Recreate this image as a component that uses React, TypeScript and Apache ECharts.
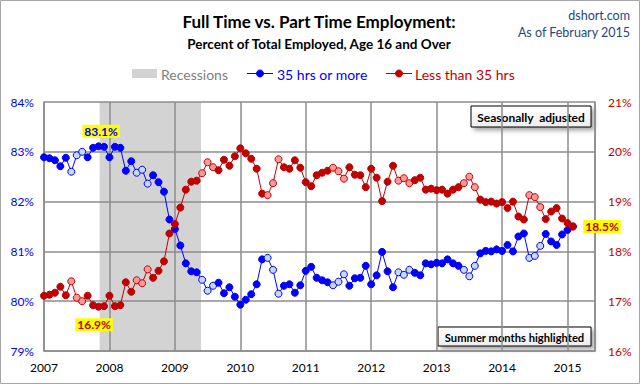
import React, { useEffect, useRef } from "react";
import * as echarts from "echarts";

const startYear = 2007;
const yearTicks = [2007, 2008, 2009, 2010, 2011, 2012, 2013, 2014, 2015];
const summerMonths = [5, 6, 7]; // Jun, Jul, Aug highlighted
const recession = [2007.85, 2009.4];

// 35 hrs or more, % of total employed (Jan 2007 .. Feb 2015)
const fullTime = [
  82.89, 82.87, 82.83, 82.71, 82.88, 82.6, 82.93, 83.0, 82.89, 83.08, 83.11, 83.1,
  82.89, 83.1, 83.08, 82.62, 82.81, 82.58, 82.64, 82.36, 82.53, 82.39, 82.2, 81.64,
  81.45, 81.12, 80.76, 80.6, 80.58, 80.43, 80.21, 80.31, 80.37, 80.16, 80.28, 80.09,
  79.93, 80.03, 80.14, 80.34, 80.84, 80.87, 80.63, 80.15, 80.31, 80.34, 80.17, 80.32,
  80.61, 80.69, 80.47, 80.42, 80.38, 80.32, 80.39, 80.54, 80.31, 80.46, 80.47, 80.71,
  80.34, 80.52, 80.99, 80.6, 80.28, 80.58, 80.53, 80.63, 80.57, 80.52, 80.76, 80.74,
  80.77, 80.76, 80.84, 80.76, 80.71, 80.63, 80.5, 80.71, 80.96, 81.01, 81.0, 81.04,
  81.01, 81.13, 81.0, 81.3, 81.36, 80.87, 80.91, 81.11, 81.35, 81.2, 81.13, 81.34,
  81.43, 81.5,
];

// Less than 35 hrs, % of total employed (Jan 2007 .. Feb 2015)
const partTime = [
  17.11, 17.13, 17.17, 17.29, 17.12, 17.4, 17.07, 17.0, 17.11, 16.92, 16.89, 16.9,
  17.11, 16.9, 16.92, 17.38, 17.19, 17.42, 17.36, 17.64, 17.47, 17.61, 17.8, 18.36,
  18.55, 18.88, 19.24, 19.4, 19.42, 19.57, 19.79, 19.69, 19.63, 19.84, 19.72, 19.91,
  20.07, 19.97, 19.86, 19.66, 19.16, 19.13, 19.37, 19.85, 19.69, 19.66, 19.83, 19.68,
  19.39, 19.31, 19.53, 19.58, 19.62, 19.68, 19.61, 19.46, 19.69, 19.54, 19.53, 19.29,
  19.66, 19.48, 19.01, 19.4, 19.72, 19.42, 19.47, 19.37, 19.43, 19.48, 19.24, 19.26,
  19.23, 19.24, 19.16, 19.24, 19.29, 19.37, 19.5, 19.29, 19.04, 18.99, 19.0, 18.96,
  18.99, 18.87, 19.0, 18.7, 18.64, 19.13, 19.09, 18.89, 18.65, 18.8, 18.87, 18.66,
  18.57, 18.5,
];

const BLUE = "#0000FF";
const BLUE_LIGHT = "#C5D9F1";
const RED = "#C00000";
const RED_LIGHT = "#FF9999";
const GRID = "#8C8C8C";
const FONT = 'Lato, "Noto Sans", sans-serif';

function toPoints(values: number[], color: string, light: string) {
  return values.map((v, i) => {
    const summer = summerMonths.includes(i % 12);
    return {
      value: [startYear + i / 12, v],
      itemStyle: { color: summer ? light : color, borderColor: color, borderWidth: 1 },
    };
  });
}

function labelStyle(color: string, offset: number[]) {
  return {
    show: true,
    position: "inside",
    offset,
    color,
    fontFamily: FONT,
    fontWeight: "bold",
    fontSize: 12,
    backgroundColor: "#FFFF00",
    padding: [1, 2, 0, 2],
    formatter: (p: any) => Number(p.value).toFixed(1) + "%",
  };
}

function noteBox(x: number, y: number, w: number, h: number, text: string, size: number) {
  return {
    type: "group",
    children: [
      {
        type: "rect",
        shape: { x, y, width: w, height: h },
        style: {
          fill: new echarts.graphic.LinearGradient(0, 0, 0, 1, [
            { offset: 0, color: "#FFFFFF" },
            { offset: 1, color: "#EDEDED" },
          ]),
          stroke: "#000",
          lineWidth: 1,
          shadowBlur: 4,
          shadowOffsetX: 3,
          shadowOffsetY: 3,
          shadowColor: "rgba(0,0,0,0.35)",
        },
      },
      {
        type: "text",
        x: x + w / 2,
        y: y + h / 2 + 1,
        style: {
          text,
          align: "center",
          verticalAlign: "middle",
          fontFamily: FONT,
          fontWeight: "bold",
          fontSize: size,
          fill: "#000",
        },
      },
    ],
  };
}

export default function App() {
  const ref = useRef<HTMLDivElement>(null);
  useEffect(() => {
    if (!ref.current) return;
    const chart = echarts.init(ref.current, undefined, { renderer: "svg" });
    const lastIdx = partTime.length - 1;
    const option: any = {
      animation: false,
      backgroundColor: "#FFFFFF",
      textStyle: { fontFamily: FONT },
      grid: { left: 44, right: 46, top: 102, bottom: 34, containLabel: false },
      xAxis: {
        type: "value",
        min: yearTicks[0],
        max: 2015.42,
        interval: 1,
        axisLine: { show: true, lineStyle: { color: GRID, width: 1.5 } },
        axisTick: { show: false },
        axisLabel: {
          color: "#000",
          fontSize: 12,
          fontFamily: FONT,
          margin: 10,
          formatter: (v: number) => (yearTicks.includes(Math.round(v * 1000) / 1000) ? String(v) : ""),
        },
        splitLine: { show: true, lineStyle: { color: GRID, width: 1.5 } },
      },
      yAxis: [
        {
          type: "value",
          position: "left",
          min: 79,
          max: 84,
          interval: 1,
          axisLine: { show: true, lineStyle: { color: GRID, width: 1.5 } },
          axisTick: { show: false },
          axisLabel: { color: BLUE, fontSize: 12, fontFamily: FONT, margin: 10, formatter: "{value}%" },
          splitLine: { show: true, lineStyle: { color: GRID, width: 1.5 } },
        },
        {
          type: "value",
          position: "right",
          min: 16,
          max: 21,
          interval: 1,
          axisLine: { show: true, lineStyle: { color: GRID, width: 1.5 } },
          axisTick: { show: false },
          axisLabel: { color: RED, fontSize: 12, fontFamily: FONT, margin: 13, formatter: "{value}%" },
          splitLine: { show: false },
        },
      ],
      graphic: [
        {
          type: "rect",
          silent: true,
          shape: { x: 0.5, y: 0.5, width: 639, height: 383 },
          style: { fill: "none", stroke: "#A6A6A6", lineWidth: 1 },
        },
        {
          type: "text",
          x: 319,
          y: 21,
          style: {
            text: "Full Time vs. Part Time Employment:",
            align: "center",
            verticalAlign: "middle",
            fontFamily: FONT,
            fontWeight: "bold",
            fontSize: 17,
            fill: "#000",
          },
        },
        {
          type: "text",
          x: 319,
          y: 44,
          style: {
            text: "Percent of Total Employed, Age 16 and Over",
            align: "center",
            verticalAlign: "middle",
            fontFamily: FONT,
            fontWeight: "bold",
            fontSize: 13.5,
            fill: "#000",
          },
        },
        {
          type: "text",
          x: 630,
          y: 15,
          style: { text: "dshort.com", align: "right", verticalAlign: "middle", fontFamily: FONT, fontSize: 12.5, fill: "#1F497D" },
        },
        {
          type: "text",
          x: 630,
          y: 32,
          style: { text: "As of February 2015", align: "right", verticalAlign: "middle", fontFamily: FONT, fontSize: 12.5, fill: "#1F497D" },
        },
        // legend
        { type: "rect", shape: { x: 132, y: 69, width: 25, height: 9 }, style: { fill: "#D3D3D3" } },
        {
          type: "text",
          x: 161,
          y: 74,
          style: { text: "Recessions", verticalAlign: "middle", fontFamily: FONT, fontSize: 14, fill: "#808080" },
        },
        { type: "line", shape: { x1: 247, y1: 73.5, x2: 273, y2: 73.5 }, style: { stroke: BLUE, lineWidth: 1 } },
        { type: "circle", shape: { cx: 260, cy: 73.5, r: 3.5 }, style: { fill: BLUE, stroke: BLUE } },
        {
          type: "text",
          x: 277,
          y: 74,
          style: { text: "35 hrs or more", verticalAlign: "middle", fontFamily: FONT, fontSize: 14, fill: BLUE },
        },
        { type: "line", shape: { x1: 386, y1: 73.5, x2: 412, y2: 73.5 }, style: { stroke: RED, lineWidth: 1 } },
        { type: "circle", shape: { cx: 399, cy: 73.5, r: 3.5 }, style: { fill: RED, stroke: RED } },
        {
          type: "text",
          x: 415,
          y: 74,
          style: { text: "Less than 35 hrs", verticalAlign: "middle", fontFamily: FONT, fontSize: 14, fill: RED },
        },
        noteBox(471, 106, 120, 21, "Seasonally  adjusted", 12),
        noteBox(438, 327, 153, 19, "Summer months highlighted", 11.2),
      ],
      series: [
        {
          name: "Recessions",
          type: "line",
          data: [],
          silent: true,
          markArea: {
            silent: true,
            z: -1,
            itemStyle: { color: "#D3D3D3" },
            data: [[{ xAxis: recession[0] }, { xAxis: recession[1] }]],
          },
        },
        {
          name: "35 hrs or more",
          type: "line",
          yAxisIndex: 0,
          data: toPoints(fullTime, BLUE, BLUE_LIGHT),
          symbol: "circle",
          symbolSize: 7,
          lineStyle: { color: BLUE, width: 1 },
          z: 3,
          markPoint: {
            symbol: "circle",
            symbolSize: 1,
            itemStyle: { color: "rgba(0,0,0,0)" },
            label: labelStyle(BLUE, [2.5, -15]),
            data: [{ type: "max" }],
          },
        },
        {
          name: "Less than 35 hrs",
          type: "line",
          yAxisIndex: 1,
          data: toPoints(partTime, RED, RED_LIGHT),
          symbol: "circle",
          symbolSize: 7,
          lineStyle: { color: RED, width: 1 },
          z: 4,
          markPoint: {
            symbol: "circle",
            symbolSize: 1,
            itemStyle: { color: "rgba(0,0,0,0)" },
            data: [
              { type: "min", label: labelStyle(RED, [-4.5, 18]) },
              {
                coord: [startYear + lastIdx / 12, partTime[lastIdx]],
                value: partTime[lastIdx],
                label: labelStyle(RED, [29, 0]),
              },
            ],
          },
        },
      ],
    };
    chart.setOption(option);
    return () => chart.dispose();
  }, []);
  return <div ref={ref} style={{ position: "fixed", left: 0, top: 0, width: 641, height: 385 }} />;
}
